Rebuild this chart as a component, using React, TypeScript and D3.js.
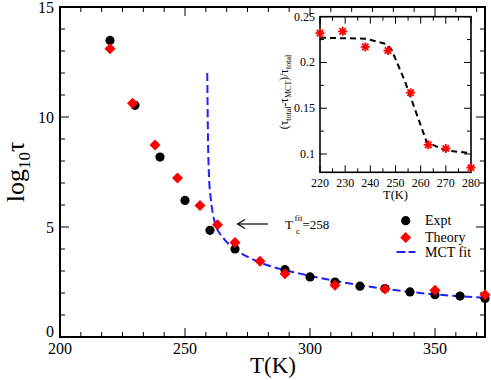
import React from 'react';
import * as d3 from 'd3';

// main panel data
const exptT = [220, 230, 240, 250, 260, 270, 290, 300, 310, 320, 330, 340, 350, 360, 370];
const exptVal = [13.48, 10.53, 8.18, 6.21, 4.85, 4.0, 3.06, 2.73, 2.5, 2.31, 2.2, 2.05, 1.92, 1.86, 1.75];
const theoryT = [220, 229, 238, 247, 256, 263, 270, 280, 290, 310, 330, 350, 370];
const theoryVal = [13.1, 10.62, 8.73, 7.23, 5.98, 5.1, 4.3, 3.44, 2.88, 2.35, 2.18, 2.12, 1.92];
const mctT = [258.9, 259.2, 259.6, 260.3, 261, 262, 265.3, 269.3, 276, 285.3, 296, 318.7, 340, 370];
const mctVal = [12.0, 9.0, 7.3, 6.3, 5.7, 5.18, 4.5, 4.05, 3.59, 3.18, 2.88, 2.38, 2.05, 1.78];
const xTicks = [200, 250, 300, 350];
const yTicks = [0, 5, 10, 15];

// inset data
const insetT = [220, 229, 238, 247, 256, 263, 270, 280];
const insetVal = [0.232, 0.234, 0.217, 0.213, 0.167, 0.11, 0.106, 0.085];
const fitT = [220, 238.3, 246.5, 248.5, 253.8, 262.4, 269.7, 279.6];
const fitVal = [0.227, 0.226, 0.22, 0.2136, 0.179, 0.113, 0.104, 0.101];
const insetXTicks = [220, 230, 240, 250, 260, 270, 280];
const insetYTicks = [0.1, 0.15, 0.2, 0.25];

const FONT = '"Liberation Serif", "DejaVu Serif", serif';

const App = () => {
  const W = 491, H = 380;
  const m = { left: 60, right: 485, top: 7, bottom: 337 };
  const x = d3.scaleLinear().domain([200, 370]).range([m.left, m.right]);
  const y = d3.scaleLinear().domain([0, 15]).range([m.bottom, m.top]);

  const ins = { left: 320, right: 471, top: 16.7, bottom: 172.3 };
  const ix = d3.scaleLinear().domain([220, 280]).range([ins.left, ins.right]);
  const iy = d3.scaleLinear().domain([0.08, 0.25]).range([ins.bottom, ins.top]);

  const mctLine = d3.line<number>()
    .x((d, i) => x(mctT[i]))
    .y(d => y(d))
    .curve(d3.curveMonotoneX);
  const fitLine = d3.line<number>()
    .x((d, i) => ix(fitT[i]))
    .y(d => iy(d));

  const diamond = (cx: number, cy: number, r: number) =>
    `M${cx},${cy - r}L${cx + r},${cy}L${cx},${cy + r}L${cx - r},${cy}Z`;
  const star = (cx: number, cy: number, r: number) => {
    let p = '';
    for (let k = 0; k < 4; k++) {
      const a = (k * Math.PI) / 4;
      p += `M${cx - r * Math.cos(a)},${cy - r * Math.sin(a)}L${cx + r * Math.cos(a)},${cy + r * Math.sin(a)}`;
    }
    return p;
  };

  // minor ticks
  const xMinor = d3.range(0, 21).map(i => 200 + (50 / 6) * i).filter(v => v <= 370.01);
  const yMinor = d3.range(0, 16);
  const ixMinor = d3.range(220, 281, 5);
  const iyMinor = d3.range(0, 7).map(i => 0.1 + 0.025 * i).filter(v => v <= 0.2501);

  const isMajor = (v: number, list: number[]) => list.some(t => Math.abs(t - v) < 1e-6);

  return (
    <svg width={W} height={H} style={{ display: 'block', position: 'absolute', left: 0, top: 0 }}
      fontFamily={FONT}>
      <rect width={W} height={H} fill="white" />
      <defs>
        <clipPath id="mainClip">
          <rect x={m.left} y={m.top} width={m.right - m.left} height={m.bottom - m.top} />
        </clipPath>
      </defs>

      {/* main ticks, inward on all four sides */}
      <g stroke="black" strokeWidth={1}>
        {xMinor.map((v, i) => {
          const len = isMajor(Math.round(v * 1000) / 1000, xTicks) ? 9 : 5;
          return (
            <g key={'xt' + i}>
              <line x1={x(v)} x2={x(v)} y1={m.bottom} y2={m.bottom - len} />
              <line x1={x(v)} x2={x(v)} y1={m.top} y2={m.top + len} />
            </g>
          );
        })}
        {yMinor.map(v => {
          const len = isMajor(v, yTicks) ? 9 : 5;
          return (
            <g key={'yt' + v}>
              <line x1={m.left} x2={m.left + len} y1={y(v)} y2={y(v)} />
              <line x1={m.right} x2={m.right - len} y1={y(v)} y2={y(v)} />
            </g>
          );
        })}
      </g>
      <rect x={m.left} y={m.top} width={m.right - m.left} height={m.bottom - m.top}
        fill="none" stroke="black" strokeWidth={2} />

      {/* tick labels */}
      <g fontSize={16} fill="black">
        {xTicks.map(v => (
          <text key={'xl' + v} x={x(v)} y={354} textAnchor="middle">{v}</text>
        ))}
        {yTicks.map(v => (
          <text key={'yl' + v} x={54} y={y(v) + (v === 0 ? 0 : 6)} textAnchor="end">{v}</text>
        ))}
      </g>

      {/* axis titles */}
      <text x={273} y={373} fontSize={23} textAnchor="middle">T(K)</text>
      <text transform="translate(24,172) rotate(-90)" fontSize={26} textAnchor="middle">
        log<tspan fontSize={17} dy={6}>10</tspan><tspan dy={-6}>τ</tspan>
      </text>

      {/* MCT fit */}
      <path d={mctLine(mctVal) || ''} fill="none" stroke="#1f1fff" strokeWidth={2}
        strokeDasharray="8,4" clipPath="url(#mainClip)" />

      {/* experiment */}
      <g fill="black">
        {exptVal.map((v, i) => (
          <circle key={'e' + i} cx={x(exptT[i])} cy={y(v)} r={4.6} />
        ))}
      </g>
      {/* theory */}
      <g fill="#ff0000">
        {theoryVal.map((v, i) => (
          <path key={'t' + i} d={diamond(x(theoryT[i]), y(v), 5.5)} />
        ))}
      </g>

      {/* annotation */}
      <g stroke="black" strokeWidth={1.2} fill="none">
        <line x1={238} x2={268} y1={224} y2={224} />
        <polyline points="245,219.5 237.5,224 245,228.5" />
      </g>
      <g fontSize={13} fill="black">
        <text x={285} y={229}>T</text>
        <text x={294.5} y={221} fontSize={9}>fit</text>
        <text x={296} y={234} fontSize={9}>c</text>
        <text x={302.5} y={229}>=258</text>
      </g>

      {/* legend */}
      <g fontSize={14} fill="black">
        <circle cx={405.7} cy={220.7} r={4.6} />
        <text x={425} y={225}>Expt</text>
        <path d={diamond(405.7, 237.5, 5.5)} fill="#ff0000" />
        <text x={425} y={242}>Theory</text>
        <line x1={396.5} x2={415.5} y1={252} y2={252} stroke="#1f1fff" strokeWidth={2} strokeDasharray="9,3" />
        <text x={425} y={257}>MCT fit</text>
      </g>

      {/* inset */}
      <rect x={ins.left} y={ins.top} width={ins.right - ins.left} height={ins.bottom - ins.top} fill="white" />
      <g stroke="black" strokeWidth={1}>
        {ixMinor.map(v => {
          const len = isMajor(v, insetXTicks) ? 7 : 4;
          return (
            <g key={'ixt' + v}>
              <line x1={ix(v)} x2={ix(v)} y1={ins.bottom} y2={ins.bottom - len} />
              <line x1={ix(v)} x2={ix(v)} y1={ins.top} y2={ins.top + len} />
            </g>
          );
        })}
        {iyMinor.map((v, i) => {
          const len = isMajor(Math.round(v * 1000) / 1000, insetYTicks) ? 7 : 4;
          return (
            <g key={'iyt' + i}>
              <line x1={ins.left} x2={ins.left + len} y1={iy(v)} y2={iy(v)} />
              <line x1={ins.right} x2={ins.right - len} y1={iy(v)} y2={iy(v)} />
            </g>
          );
        })}
      </g>
      <rect x={ins.left} y={ins.top} width={ins.right - ins.left} height={ins.bottom - ins.top}
        fill="none" stroke="black" strokeWidth={1.6} />
      <g fontSize={12} fill="black">
        {insetXTicks.map(v => (
          <text key={'ixl' + v} x={ix(v)} y={186.5} textAnchor="middle">{v}</text>
        ))}
        {insetYTicks.map(v => (
          <text key={'iyl' + v} x={315} y={iy(v) + 4} textAnchor="end">{v}</text>
        ))}
      </g>
      <text x={395.5} y={199} fontSize={12.5} textAnchor="middle">T(K)</text>
      <text transform="translate(288,92) rotate(-90)" fontSize={11.5} textAnchor="middle">
        (τ<tspan fontSize={8} dy={3}>total</tspan><tspan dy={-3}>-τ</tspan><tspan fontSize={8} dy={3}>MCT</tspan><tspan dy={-3}>)/τ</tspan><tspan fontSize={8} dy={3}>total</tspan>
      </text>
      <path d={fitLine(fitVal) || ''} fill="none" stroke="black" strokeWidth={2} strokeDasharray="6,4" />
      <g stroke="#ff0000" strokeWidth={1.8}>
        {insetVal.map((v, i) => (
          <path key={'s' + i} d={star(ix(insetT[i]), iy(v), 4.5)} />
        ))}
      </g>
    </svg>
  );
};

export default App;
